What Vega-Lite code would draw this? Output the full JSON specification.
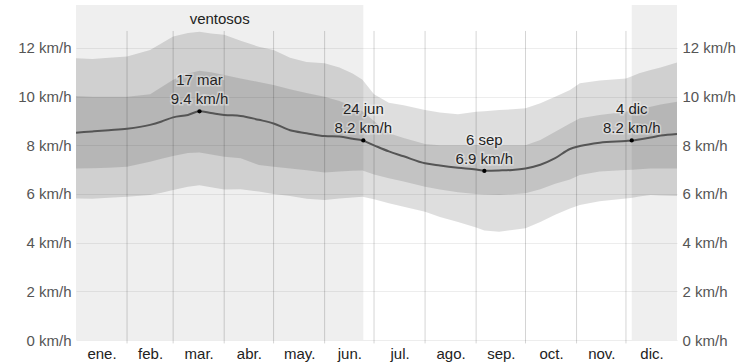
{
  "$schema": "https://vega.github.io/schema/vega-lite/v6.json",
  "width": 601,
  "height": 335,
  "autosize": {"type": "none"},
  "padding": {"left": 76, "top": 5, "right": 76, "bottom": 22},
  "background": "white",
  "config": {
    "view": {"stroke": null},
    "font": "Liberation Sans",
    "axis": {"labelFont": "Liberation Sans", "labelFontSize": 15}
  },
  "datasets": {
    "windy": [
      {"start": 0, "end": 174.5, "name": "ventosos"},
      {"start": 337.5, "end": 365, "name": ""}
    ],
    "wind": [
      {"day": 0, "p10": 5.82, "p25": 7.05, "mean": 8.52, "p75": 10.03, "p90": 11.58},
      {"day": 10, "p10": 5.8, "p25": 7.06, "mean": 8.57, "p75": 10.0, "p90": 11.55},
      {"day": 20, "p10": 5.85, "p25": 7.08, "mean": 8.62, "p75": 10.0, "p90": 11.6},
      {"day": 31, "p10": 5.89, "p25": 7.12, "mean": 8.68, "p75": 10.0, "p90": 11.65},
      {"day": 45, "p10": 5.96, "p25": 7.33, "mean": 8.84, "p75": 10.1, "p90": 11.92},
      {"day": 52, "p10": 6.05, "p25": 7.45, "mean": 8.98, "p75": 10.4, "p90": 12.2},
      {"day": 59, "p10": 6.16, "p25": 7.56, "mean": 9.15, "p75": 10.69, "p90": 12.47},
      {"day": 68, "p10": 6.3, "p25": 7.68, "mean": 9.25, "p75": 10.95, "p90": 12.62},
      {"day": 75, "p10": 6.36, "p25": 7.71, "mean": 9.4, "p75": 11.06, "p90": 12.67},
      {"day": 82, "p10": 6.28, "p25": 7.62, "mean": 9.33, "p75": 11.0, "p90": 12.6},
      {"day": 90, "p10": 6.19, "p25": 7.53, "mean": 9.25, "p75": 10.89, "p90": 12.54},
      {"day": 100, "p10": 6.2, "p25": 7.47, "mean": 9.21, "p75": 10.75, "p90": 12.3},
      {"day": 111, "p10": 6.1, "p25": 7.19, "mean": 9.05, "p75": 10.6, "p90": 12.05},
      {"day": 120, "p10": 6.0, "p25": 7.12, "mean": 8.9, "p75": 10.48, "p90": 11.92},
      {"day": 130, "p10": 5.92, "p25": 7.05, "mean": 8.62, "p75": 10.3, "p90": 11.6},
      {"day": 140, "p10": 5.8, "p25": 6.98, "mean": 8.5, "p75": 10.15, "p90": 11.42},
      {"day": 151, "p10": 5.75, "p25": 6.88, "mean": 8.38, "p75": 10.0, "p90": 11.37},
      {"day": 160, "p10": 5.82, "p25": 6.92, "mean": 8.36, "p75": 9.82, "p90": 11.2},
      {"day": 168, "p10": 5.86, "p25": 6.96, "mean": 8.27, "p75": 9.6, "p90": 10.95},
      {"day": 174, "p10": 5.89, "p25": 6.97, "mean": 8.2, "p75": 9.4, "p90": 10.7},
      {"day": 181, "p10": 5.78, "p25": 6.8, "mean": 8.0, "p75": 9.0, "p90": 10.1},
      {"day": 190, "p10": 5.62, "p25": 6.65, "mean": 7.75, "p75": 8.5, "p90": 9.75},
      {"day": 199, "p10": 5.48, "p25": 6.51, "mean": 7.55, "p75": 8.3, "p90": 9.65},
      {"day": 212, "p10": 5.27, "p25": 6.3, "mean": 7.26, "p75": 8.05, "p90": 9.45},
      {"day": 221, "p10": 5.05, "p25": 6.18, "mean": 7.17, "p75": 8.0, "p90": 9.35},
      {"day": 232, "p10": 4.85, "p25": 6.07, "mean": 7.08, "p75": 8.0, "p90": 9.28},
      {"day": 243, "p10": 4.62, "p25": 6.0, "mean": 7.01, "p75": 8.0, "p90": 9.38},
      {"day": 248, "p10": 4.5, "p25": 5.98, "mean": 6.96, "p75": 8.0, "p90": 9.4},
      {"day": 257, "p10": 4.45, "p25": 5.96, "mean": 6.97, "p75": 8.0, "p90": 9.45},
      {"day": 265, "p10": 4.52, "p25": 5.99, "mean": 6.99, "p75": 8.0, "p90": 9.48},
      {"day": 273, "p10": 4.59, "p25": 6.03, "mean": 7.05, "p75": 8.0, "p90": 9.52},
      {"day": 282, "p10": 4.85, "p25": 6.2, "mean": 7.2, "p75": 8.22, "p90": 9.73},
      {"day": 291, "p10": 5.15, "p25": 6.42, "mean": 7.47, "p75": 8.56, "p90": 10.0},
      {"day": 300, "p10": 5.4, "p25": 6.6, "mean": 7.85, "p75": 8.9, "p90": 10.27},
      {"day": 306, "p10": 5.55, "p25": 6.78, "mean": 7.97, "p75": 9.11, "p90": 10.55},
      {"day": 318, "p10": 5.7, "p25": 6.92, "mean": 8.11, "p75": 9.25, "p90": 10.66},
      {"day": 334, "p10": 5.82, "p25": 6.99, "mean": 8.18, "p75": 9.38, "p90": 10.75},
      {"day": 338, "p10": 5.85, "p25": 7.0, "mean": 8.2, "p75": 9.42, "p90": 10.85},
      {"day": 342, "p10": 5.9, "p25": 7.02, "mean": 8.24, "p75": 9.5, "p90": 10.96},
      {"day": 349, "p10": 5.96, "p25": 7.05, "mean": 8.32, "p75": 9.59, "p90": 11.1},
      {"day": 355, "p10": 5.94, "p25": 7.05, "mean": 8.4, "p75": 9.68, "p90": 11.2},
      {"day": 365, "p10": 5.92, "p25": 7.05, "mean": 8.47, "p75": 9.79, "p90": 11.4}
    ],
    "months": [
      {"b": 31}, {"b": 59}, {"b": 90}, {"b": 120}, {"b": 151}, {"b": 181},
      {"b": 212}, {"b": 243}, {"b": 273}, {"b": 304}, {"b": 334}
    ],
    "marks": [
      {"day": 75, "v": 9.4, "label": "17 mar\n9.4 km/h"},
      {"day": 174.5, "v": 8.2, "label": "24 jun\n8.2 km/h"},
      {"day": 248, "v": 6.95, "label": "6 sep\n6.9 km/h"},
      {"day": 337.5, "v": 8.2, "label": "4 dic\n8.2 km/h"}
    ]
  },
  "layer": [
    {
      "data": {"name": "windy"},
      "mark": {"type": "rect", "color": "black", "opacity": 0.063},
      "encoding": {
        "x": {
          "field": "start", "type": "quantitative",
          "scale": {"domain": [0, 365], "nice": false, "zero": false},
          "axis": {
            "values": [15.5, 45, 74.5, 105, 135.5, 166, 196.5, 227.5, 258, 288.5, 319, 349.5],
            "labelExpr": "['ene.','feb.','mar.','abr.','may.','jun.','jul.','ago.','sep.','oct.','nov.','dic.'][floor(datum.value / 30.5)]",
            "title": null, "domain": false, "ticks": false, "grid": false,
            "labelPadding": 6, "labelColor": "#222", "labelFlush": false
          }
        },
        "x2": {"field": "end"},
        "y": {
          "datum": 0, "type": "quantitative",
          "scale": {"domain": [0, 13.767], "nice": false, "zero": false},
          "axis": {
            "values": [0, 2, 4, 6, 8, 10, 12],
            "labelExpr": "datum.value + ' km/h'",
            "title": null, "domain": false, "ticks": false, "orient": "left",
            "labelPadding": 5, "labelColor": "#555",
            "grid": true, "gridColor": "#000", "gridOpacity": 0.07
          }
        },
        "y2": {"datum": 13.767}
      }
    },
    {
      "data": {"name": "wind"},
      "mark": {"type": "area", "color": "black", "opacity": 0.13},
      "encoding": {
        "x": {"field": "day", "type": "quantitative"},
        "y": {
          "field": "p10", "type": "quantitative",
          "axis": {
            "values": [0, 2, 4, 6, 8, 10, 12],
            "labelExpr": "datum.value + ' km/h'",
            "title": null, "domain": false, "ticks": false, "orient": "right",
            "labelPadding": 5, "labelColor": "#555", "grid": false
          }
        },
        "y2": {"field": "p90"}
      }
    },
    {
      "data": {"name": "wind"},
      "mark": {"type": "area", "color": "black", "opacity": 0.12},
      "encoding": {
        "x": {"field": "day", "type": "quantitative"},
        "y": {"field": "p25", "type": "quantitative", "axis": null},
        "y2": {"field": "p75"}
      }
    },
    {
      "data": {"name": "months"},
      "mark": {"type": "rule", "color": "black", "opacity": 0.17, "strokeWidth": 1},
      "encoding": {
        "x": {"field": "b", "type": "quantitative"},
        "y": {"datum": -0.14, "type": "quantitative", "axis": null},
        "y2": {"datum": 12.7}
      }
    },
    {
      "data": {"name": "wind"},
      "mark": {"type": "line", "color": "#555", "strokeWidth": 2, "interpolate": "monotone"},
      "encoding": {
        "x": {"field": "day", "type": "quantitative"},
        "y": {"field": "mean", "type": "quantitative", "axis": null}
      }
    },
    {
      "data": {"name": "marks"},
      "mark": {"type": "circle", "color": "black", "opacity": 1, "size": 18},
      "encoding": {
        "x": {"field": "day", "type": "quantitative"},
        "y": {"field": "v", "type": "quantitative", "axis": null}
      }
    },
    {
      "data": {"name": "marks"},
      "mark": {"type": "text", "lineBreak": "\n", "fontSize": 15, "lineHeight": 19, "baseline": "bottom", "align": "center", "dy": -23, "color": "white", "stroke": "white", "strokeWidth": 3, "strokeOpacity": 0.6, "opacity": 0.6},
      "encoding": {
        "x": {"field": "day", "type": "quantitative"},
        "y": {"field": "v", "type": "quantitative", "axis": null},
        "text": {"field": "label"}
      }
    },
    {
      "data": {"name": "marks"},
      "mark": {"type": "text", "lineBreak": "\n", "fontSize": 15, "lineHeight": 19, "baseline": "bottom", "align": "center", "dy": -23, "color": "#222"},
      "encoding": {
        "x": {"field": "day", "type": "quantitative"},
        "y": {"field": "v", "type": "quantitative", "axis": null},
        "text": {"field": "label"}
      }
    },
    {
      "data": {"name": "windy"},
      "transform": [{"filter": "datum.name != ''"}, {"calculate": "(datum.start + datum.end) / 2", "as": "mid"}],
      "mark": {"type": "text", "fontSize": 15, "baseline": "alphabetic", "align": "center", "color": "#222"},
      "encoding": {
        "x": {"field": "mid", "type": "quantitative"},
        "y": {"datum": 13.0, "type": "quantitative", "axis": null},
        "text": {"field": "name"}
      }
    }
  ],
  "resolve": {"axis": {"y": "independent"}}
}
